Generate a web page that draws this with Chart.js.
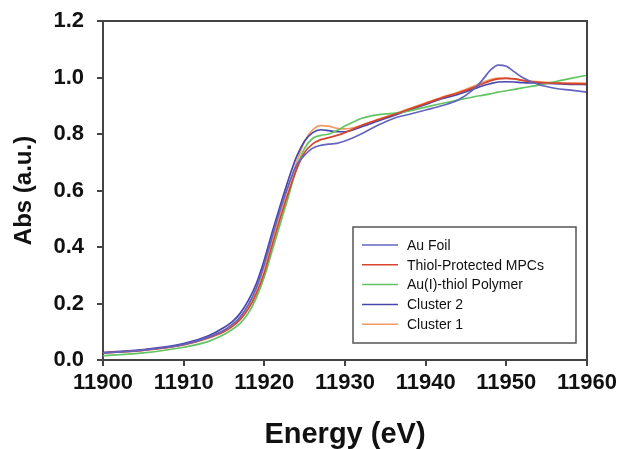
<!DOCTYPE html>
<html>
<head>
<meta charset="utf-8">
<script src="https://cdn.jsdelivr.net/npm/chart.js@4.4.0/dist/chart.umd.min.js"></script>
<style>
  html, body { margin: 0; padding: 0; background: #fff; }
  #wrap { width: 623px; height: 449px; }
</style>
</head>
<body>
<div id="wrap"><canvas id="c" width="623" height="449"></canvas></div>
<script>
// energies (eV) shared by all spectra
const energy = [11900, 11905, 11910, 11913, 11915, 11916, 11917, 11918, 11919, 11920,
  11921, 11922, 11923, 11924, 11925, 11926, 11927, 11928, 11929, 11930,
  11932, 11934, 11936, 11938, 11940, 11942, 11944, 11946, 11947, 11948,
  11949, 11950, 11951, 11952, 11954, 11956, 11958, 11960];

const auFoil = [0.025, 0.035, 0.055, 0.08, 0.105, 0.125, 0.152, 0.195, 0.255, 0.34,
  0.44, 0.535, 0.62, 0.69, 0.725, 0.75, 0.76, 0.764, 0.767, 0.775,
  0.80, 0.83, 0.855, 0.87, 0.885, 0.90, 0.92, 0.96, 0.99, 1.025,
  1.044, 1.04, 1.02, 1.0, 0.975, 0.962, 0.955, 0.948];

const thiolMPC = [0.025, 0.034, 0.053, 0.077, 0.1, 0.118, 0.143, 0.18, 0.235, 0.31,
  0.41, 0.505, 0.595, 0.675, 0.735, 0.765, 0.78, 0.787, 0.795, 0.805,
  0.83, 0.85, 0.868, 0.888, 0.908, 0.928, 0.945, 0.965, 0.977, 0.988,
  0.995, 0.997, 0.995, 0.99, 0.983, 0.98, 0.978, 0.977];

const polymer = [0.015, 0.025, 0.045, 0.065, 0.09, 0.108, 0.13, 0.165, 0.22, 0.295,
  0.39, 0.485, 0.58, 0.68, 0.75, 0.785, 0.795, 0.80, 0.812, 0.828,
  0.855, 0.868, 0.873, 0.882, 0.895, 0.908, 0.92, 0.932, 0.937, 0.942,
  0.948, 0.953, 0.958, 0.963, 0.973, 0.985, 0.997, 1.008];

const cluster2 = [0.027, 0.037, 0.058, 0.085, 0.115, 0.135, 0.165, 0.21, 0.27, 0.355,
  0.455, 0.55, 0.64, 0.72, 0.775, 0.805, 0.815, 0.812, 0.808, 0.808,
  0.825, 0.845, 0.865, 0.885, 0.905, 0.925, 0.94, 0.96, 0.97, 0.978,
  0.984, 0.985, 0.984, 0.982, 0.98, 0.978, 0.976, 0.975];

const cluster1 = [0.025, 0.035, 0.055, 0.08, 0.105, 0.125, 0.15, 0.19, 0.25, 0.33,
  0.43, 0.525, 0.615, 0.70, 0.775, 0.815, 0.83, 0.828, 0.82, 0.818,
  0.83, 0.85, 0.87, 0.89, 0.91, 0.93, 0.948, 0.97, 0.982, 0.992,
  0.998, 0.998, 0.995, 0.99, 0.985, 0.982, 0.98, 0.98];

const seriesNames = ["Au Foil", "Thiol-Protected MPCs", "Au(I)-thiol Polymer", "Cluster 2", "Cluster 1"];
const seriesColors = ["#6464c0", "#d8452e", "#62c462", "#4646ac", "#f29a62"];
const seriesValues = [auFoil, thiolMPC, polymer, cluster2, cluster1];

function toPoints(vals) {
  return vals.map((v, i) => ({ x: energy[i], y: v }));
}

// box round the plot area
const frame = {
  id: 'frame',
  afterDraw(chart) {
    const a = chart.chartArea, ctx = chart.ctx;
    ctx.save();
    ctx.strokeStyle = '#444';
    ctx.lineWidth = 2;
    ctx.beginPath();
    ctx.moveTo(a.left, a.top);
    ctx.lineTo(a.right, a.top);
    ctx.lineTo(a.right, a.bottom);
    ctx.stroke();
    ctx.restore();
  }
};

// legend drawn inside the plot, lower right
const boxLegend = {
  id: 'boxLegend',
  afterDraw(chart) {
    const ctx = chart.ctx;
    const x0 = 353, y0 = 227, w = 223, h = 116;
    ctx.save();
    ctx.fillStyle = '#fff';
    ctx.fillRect(x0, y0, w, h);
    ctx.strokeStyle = '#555';
    ctx.lineWidth = 1.5;
    ctx.strokeRect(x0, y0, w, h);
    ctx.font = '14px "Liberation Sans", Arial, sans-serif';
    ctx.textBaseline = 'middle';
    chart.data.datasets.forEach((ds, i) => {
      const y = y0 + 18 + i * 19.8;
      ctx.strokeStyle = ds.borderColor;
      ctx.lineWidth = 1.5;
      ctx.beginPath();
      ctx.moveTo(362, y);
      ctx.lineTo(398, y);
      ctx.stroke();
      ctx.fillStyle = '#111';
      ctx.fillText(ds.label, 407, y + 1);
    });
    ctx.restore();
  }
};

const tickFont = { family: '"Liberation Sans", Arial, sans-serif', size: 22, weight: 'bold' };

new Chart(document.getElementById('c'), {
  type: 'line',
  data: {
    datasets: seriesNames.map((name, i) => ({
      label: name,
      data: toPoints(seriesValues[i]),
      borderColor: seriesColors[i],
      borderWidth: 1.7,
      pointRadius: 0,
      fill: false,
      cubicInterpolationMode: 'monotone'
    }))
  },
  options: {
    responsive: false,
    animation: false,
    layout: { padding: { top: 21, right: 36, left: 6, bottom: 0 } },
    plugins: { legend: { display: false }, tooltip: { enabled: false } },
    scales: {
      x: {
        type: 'linear',
        min: 11900, max: 11960,
        afterFit: s => { s.height = 89; },
        ticks: { stepSize: 10, color: '#111', font: tickFont, padding: 4, maxRotation: 0,
          callback: v => String(v) },
        grid: { drawOnChartArea: false, drawTicks: true, tickLength: 6, color: '#444', lineWidth: 2 },
        border: { display: true, color: '#444', width: 2 },
        title: { display: true, text: 'Energy (eV)', color: '#111', padding: { top: 15, bottom: -3 },
          font: { family: '"Liberation Sans", Arial, sans-serif', size: 29, weight: 'bold' } }
      },
      y: {
        min: 0, max: 1.2,
        afterFit: s => { s.width = 97; s.paddingTop = 13; s.paddingBottom = 13; },
        ticks: { stepSize: 0.2, color: '#111', font: tickFont, padding: 13,
          callback: v => v.toFixed(1) },
        grid: { drawOnChartArea: false, drawTicks: true, tickLength: 6, color: '#444', lineWidth: 2 },
        border: { display: true, color: '#444', width: 2 },
        title: { display: true, text: 'Abs (a.u.)', color: '#111', padding: { bottom: 4 },
          font: { family: '"Liberation Sans", Arial, sans-serif', size: 24, weight: 'bold' } }
      }
    }
  },
  plugins: [frame, boxLegend]
});
</script>
</body>
</html>
